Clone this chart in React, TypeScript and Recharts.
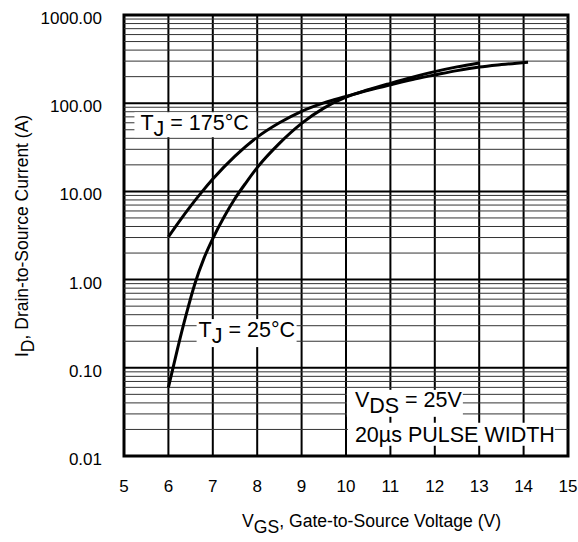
import { LineChart, Line, XAxis, YAxis, CartesianGrid, ReferenceLine, ReferenceArea, ReferenceDot } from "recharts";

// transfer characteristics
const vgs25 = [6.0, 6.2, 6.4, 6.6, 6.8, 7.0, 7.25, 7.5, 7.75, 8.0, 8.5, 9.0, 9.5, 10, 10.5, 11, 11.5, 12, 12.5, 13];
const id25 = [0.06, 0.16, 0.4, 0.91, 1.74, 2.92, 5.1, 8.3, 12.6, 18.6, 35, 59, 88, 117, 142, 168, 197, 228, 258, 286];

const vgs175 = [6.0, 6.25, 6.5, 6.75, 7.0, 7.5, 8.0, 8.5, 9.0, 9.5, 10, 10.5, 11, 11.5, 12, 12.5, 13, 13.5, 14.1];
const id175 = [3.05, 4.6, 6.8, 9.8, 13.8, 25.1, 41.2, 60, 81, 101, 119, 140, 162, 186, 209, 234, 257, 274, 292];

const xTicks = [5, 6, 7, 8, 9, 10, 11, 12, 13, 14, 15];
const yTicks = [0.01, 0.1, 1, 10, 100, 1000];
const minorSteps = [2, 3, 4, 5, 6, 7, 8, 9];
const minorLines = yTicks.slice(0, -1).flatMap((d) => minorSteps.map((m) => +(d * m).toPrecision(3)));

const FONT = '"Liberation Sans", Arial, Helvetica, sans-serif';

const data25 = vgs25.map((x, i) => ({ x, y: id25[i] }));
const data175 = vgs175.map((x, i) => ({ x, y: id175[i] }));

function Note({ cx, cy, dx, dy, w, h, main, sub, rest }: any) {
  return (
    <g>
      <rect x={cx + dx} y={cy + dy} width={w} height={h} fill="#fff" />
      <text x={cx} y={cy} fontFamily={FONT} fontSize={21.5} fill="#000">
        {main}
        {sub && <tspan dy={6}>{sub}</tspan>}
        {sub ? <tspan dy={-6}>{rest}</tspan> : rest}
      </text>
    </g>
  );
}

export default function App() {
  return (
    <div style={{ position: "absolute", left: 0, top: 0, background: "#fff" }}>
      <LineChart width={578} height={542} margin={{ top: 15, right: 10, left: 0, bottom: 0 }}>
        <CartesianGrid stroke="#000" strokeWidth={2} />
        {minorLines.map((v) => (
          <ReferenceLine key={v} y={v} stroke="#333" strokeWidth={1} />
        ))}
        <XAxis
          type="number"
          dataKey="x"
          domain={[5, 15]}
          ticks={xTicks}
          axisLine={false}
          tickLine={false}
          tickSize={22}
          tickMargin={2}
          height={86}
          tick={{ fill: "#000", fontSize: 17, fontFamily: FONT }}
          label={{
            content: ({ viewBox }: any) => (
              <text x={242} y={viewBox.y + 71} fontFamily={FONT} fontSize={17.6} fill="#000">
                V<tspan dy={6}>GS</tspan>
                <tspan dy={-6}>, Gate-to-Source Voltage (V)</tspan>
              </text>
            ),
          }}
        />
        <YAxis
          type="number"
          scale="log"
          domain={[0.01, 1000]}
          allowDataOverflow
          ticks={yTicks}
          tickFormatter={(v) => v.toFixed(2)}
          axisLine={false}
          tickLine={false}
          tickSize={20}
          tickMargin={2}
          width={124}
          tick={{ fill: "#000", fontSize: 17, fontFamily: FONT, dy: 3 }}
          label={{
            content: ({ viewBox }: any) => (
              <text transform={`translate(${viewBox.x + 28},357) rotate(-90)`} fontFamily={FONT} fontSize={17.5} fill="#000">
                I<tspan dy={6}>D</tspan>
                <tspan dy={-6}>, Drain-to-Source Current  (A)</tspan>
              </text>
            ),
          }}
        />
        <Line data={data175} dataKey="y" type="monotone" stroke="#000" strokeWidth={3} dot={false} isAnimationActive={false} />
        <Line data={data25} dataKey="y" type="monotone" stroke="#000" strokeWidth={3} dot={false} isAnimationActive={false} />
        <ReferenceArea x1={5} x2={15} y1={0.01} y2={1000} fill="none" stroke="#000" strokeWidth={3} />
        <ReferenceDot x={5.37} y={49.4} r={0} ifOverflow="visible"
          shape={(p: any) => <Note cx={p.cx} cy={p.cy} dx={-6} dy={-18} w={122} h={25} main="T" sub="J" rest=" = 175°C" />} />
        <ReferenceDot x={6.68} y={0.223} r={0} ifOverflow="visible"
          shape={(p: any) => <Note cx={p.cx} cy={p.cy} dx={-2} dy={-18} w={100} h={28} main="T" sub="J" rest=" = 25°C" />} />
        <ReferenceDot x={10.2} y={0.0361} r={0} ifOverflow="visible"
          shape={(p: any) => <Note cx={p.cx} cy={p.cy} dx={-8} dy={-17} w={116} h={27} main="V" sub="DS" rest=" = 25V" />} />
        <ReferenceDot x={10.2} y={0.0145} r={0} ifOverflow="visible"
          shape={(p: any) => <Note cx={p.cx} cy={p.cy} dx={-7} dy={-19} w={207} h={23} main="20µs PULSE WIDTH" />} />
      </LineChart>
    </div>
  );
}
